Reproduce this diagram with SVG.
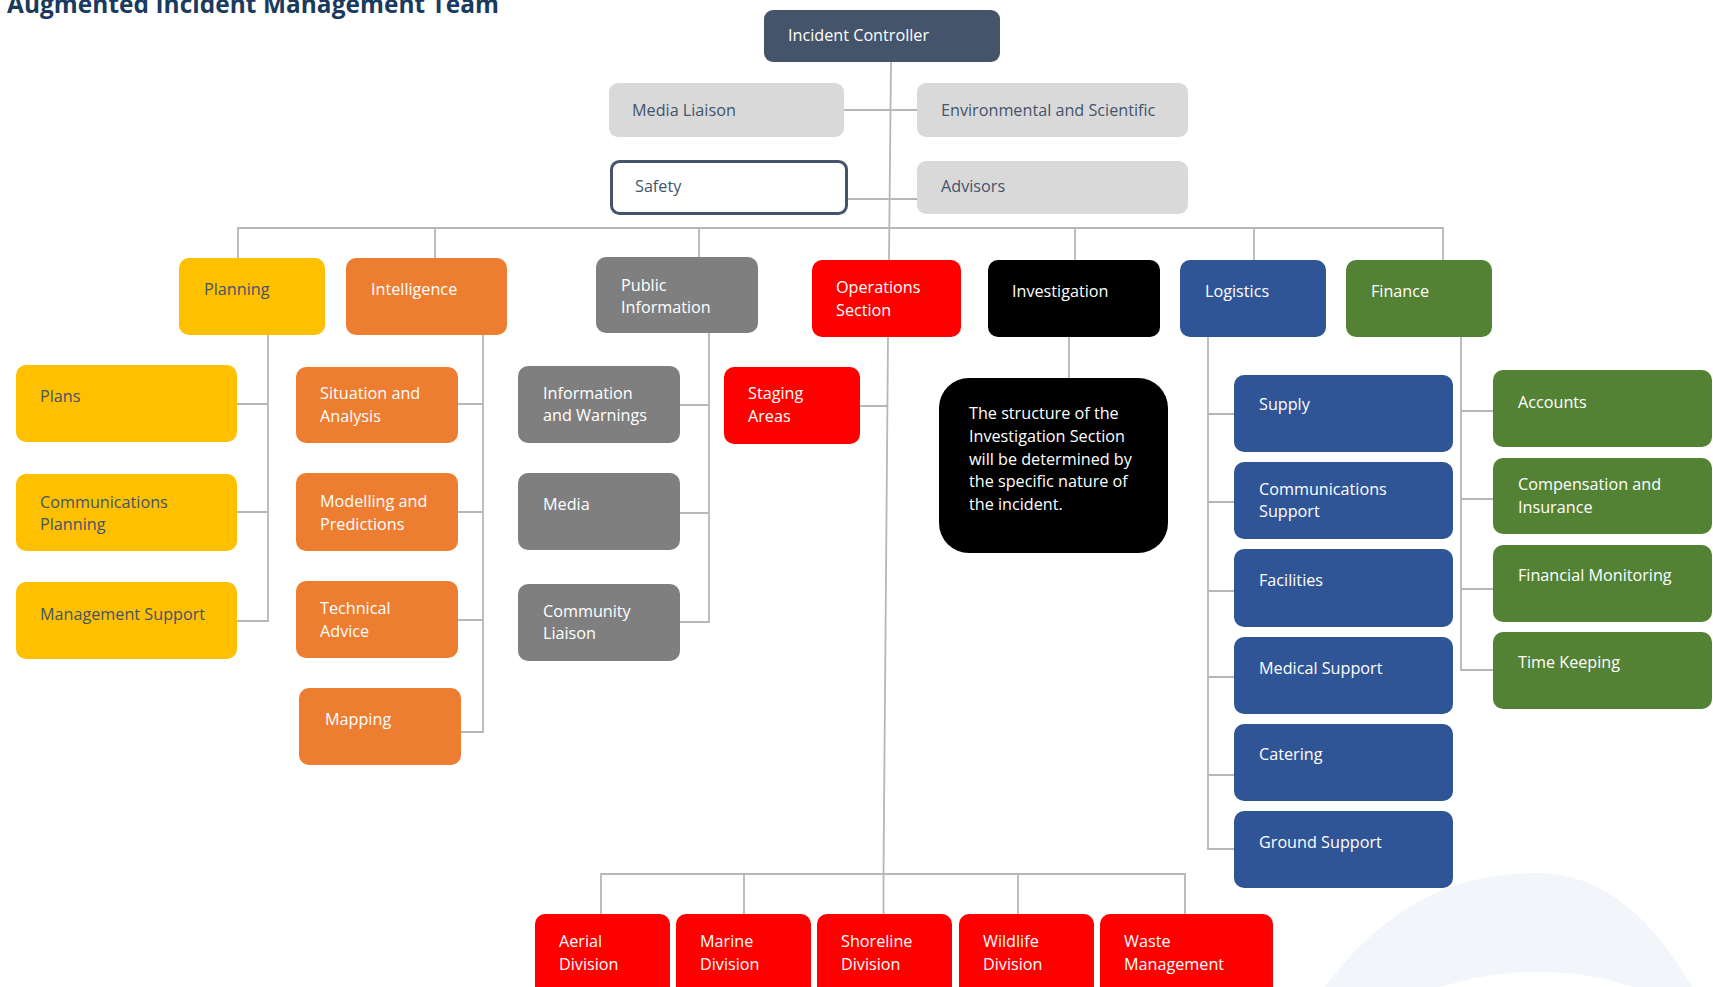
<svg xmlns="http://www.w3.org/2000/svg" width="1713" height="987" viewBox="0 0 1713 987">
<style>
text{font-family:"Open Sans","Noto Sans","Liberation Sans",sans-serif;font-size:16.2px;fill:#fff}
.dk{fill:#44546a}
.title{font-weight:700;font-size:24.4px;fill:#1a3a5e}
.c{stroke:#b7b7b7;stroke-width:1.8;fill:none}
.navy{fill:#44546a}
.lg{fill:#d9d9d9}
.yl{fill:#ffc000}
.or{fill:#ed7d31}
.gr{fill:#7f7f7f}
.rd{fill:#ff0000}
.bk{fill:#000}
.bl{fill:#2f5597}
.gn{fill:#548235}
</style>
<rect x="0" y="0" width="1713" height="987" fill="#fff"/>
<path d="M1325,987 C1390,900 1460,873 1537,873 C1610,873 1660,930 1692,987 L1633,987 C1600,976 1570,972 1537,972 C1500,972 1470,978 1440,987 Z" fill="#f2f6fa"/>
<text class="title" x="7" y="13" textLength="492">Augmented Incident Management Team</text>
<g id="connectors">
<path class="c" d="M891,62 L889,260"/>
<path class="c" d="M844,110 H917"/>
<path class="c" d="M847,199 H917"/>
<path class="c" d="M238,258 V228 H1443 V260"/>
<path class="c" d="M435,228 V258 M699,228 V257 M1075,228 V260 M1254,228 V260"/>
<path class="c" d="M268,335 V621 H237 M237,404 H268 M237,512 H268"/>
<path class="c" d="M483,335 V732 H461 M458,404 H483 M458,512 H483 M458,620 H483"/>
<path class="c" d="M709,333 V622 H680 M680,405 H709 M680,513 H709"/>
<path class="c" d="M888,337 L883.5,874 M860,406 H887"/>
<path class="c" d="M601,914 V874 H1185 V914 M744,874 V914 M883.5,874 V914 M1018,874 V914"/>
<path class="c" d="M1069,337 V378"/>
<path class="c" d="M1208,337 V849 H1234 M1208,414 H1234 M1208,502 H1234 M1208,591 H1234 M1208,677 H1234 M1208,775 H1234"/>
<path class="c" d="M1461,337 V670 H1493 M1461,411 H1493 M1461,499 H1493 M1461,589 H1493"/>
</g>
<g id="incident-controller"><rect class="navy" x="764" y="10" width="236" height="52" rx="9"/><text x="788" y="41">Incident Controller</text></g>
<g id="media-liaison"><rect class="lg" x="609" y="83" width="235" height="54" rx="9"/><text class="dk" x="632" y="116">Media Liaison</text></g>
<g id="environmental"><rect class="lg" x="917" y="83" width="271" height="54" rx="9"/><text class="dk" x="941" y="116">Environmental and Scientific</text></g>
<g id="safety"><rect x="611.5" y="161.5" width="235" height="52" rx="8" fill="#fff" stroke="#44546a" stroke-width="3"/><text class="dk" x="635" y="192">Safety</text></g>
<g id="advisors"><rect class="lg" x="917" y="161" width="271" height="53" rx="9"/><text class="dk" x="941" y="192">Advisors</text></g>

<g id="planning"><rect class="yl" x="179" y="258" width="146" height="77" rx="10"/><text class="dk" x="204" y="295">Planning</text></g>
<g id="intelligence"><rect class="or" x="346" y="258" width="161" height="77" rx="10"/><text x="371" y="295">Intelligence</text></g>
<g id="public-information"><rect class="gr" x="596" y="257" width="162" height="76" rx="10"/><text x="621" y="291">Public</text><text x="621" y="313">Information</text></g>
<g id="operations"><rect class="rd" x="812" y="260" width="149" height="77" rx="10"/><text x="836" y="293">Operations</text><text x="836" y="316">Section</text></g>
<g id="investigation"><rect class="bk" x="988" y="260" width="172" height="77" rx="10"/><text x="1012" y="297">Investigation</text></g>
<g id="logistics"><rect class="bl" x="1180" y="260" width="146" height="77" rx="10"/><text x="1205" y="297">Logistics</text></g>
<g id="finance"><rect class="gn" x="1346" y="260" width="146" height="77" rx="10"/><text x="1371" y="297">Finance</text></g>

<g id="plans"><rect class="yl" x="16" y="365" width="221" height="77" rx="10"/><text class="dk" x="40" y="402">Plans</text></g>
<g id="communications-planning"><rect class="yl" x="16" y="474" width="221" height="77" rx="10"/><text class="dk" x="40" y="507.5">Communications</text><text class="dk" x="40" y="530">Planning</text></g>
<g id="management-support"><rect class="yl" x="16" y="582" width="221" height="77" rx="10"/><text class="dk" x="40" y="619.5">Management Support</text></g>

<g id="situation"><rect class="or" x="296" y="367" width="162" height="76" rx="10"/><text x="320" y="398.5">Situation and</text><text x="320" y="422">Analysis</text></g>
<g id="modelling"><rect class="or" x="296" y="473" width="162" height="78" rx="10"/><text x="320" y="507">Modelling and</text><text x="320" y="529.5">Predictions</text></g>
<g id="technical"><rect class="or" x="296" y="581" width="162" height="77" rx="10"/><text x="320" y="613.5">Technical</text><text x="320" y="637">Advice</text></g>
<g id="mapping"><rect class="or" x="299" y="688" width="162" height="77" rx="10"/><text x="325" y="725">Mapping</text></g>

<g id="information-warnings"><rect class="gr" x="518" y="366" width="162" height="77" rx="10"/><text x="543" y="398.5">Information</text><text x="543" y="421">and Warnings</text></g>
<g id="media"><rect class="gr" x="518" y="473" width="162" height="77" rx="10"/><text x="543" y="509.5">Media</text></g>
<g id="community-liaison"><rect class="gr" x="518" y="584" width="162" height="77" rx="10"/><text x="543" y="617">Community</text><text x="543" y="639">Liaison</text></g>

<g id="staging-areas"><rect class="rd" x="724" y="367" width="136" height="77" rx="10"/><text x="748" y="398.5">Staging</text><text x="748" y="422">Areas</text></g>

<g id="investigation-note"><rect class="bk" x="939" y="378" width="229" height="175" rx="30"/><text x="969" y="419">The structure of the</text><text x="969" y="441.7">Investigation Section</text><text x="969" y="465">will be determined by</text><text x="969" y="487.3">the specific nature of</text><text x="969" y="510">the incident.</text></g>

<g id="supply"><rect class="bl" x="1234" y="375" width="219" height="77" rx="10"/><text x="1259" y="410">Supply</text></g>
<g id="communications-support"><rect class="bl" x="1234" y="462" width="219" height="77" rx="10"/><text x="1259" y="495">Communications</text><text x="1259" y="517">Support</text></g>
<g id="facilities"><rect class="bl" x="1234" y="549" width="219" height="78" rx="10"/><text x="1259" y="586">Facilities</text></g>
<g id="medical-support"><rect class="bl" x="1234" y="637" width="219" height="77" rx="10"/><text x="1259" y="673.5">Medical Support</text></g>
<g id="catering"><rect class="bl" x="1234" y="724" width="219" height="77" rx="10"/><text x="1259" y="760">Catering</text></g>
<g id="ground-support"><rect class="bl" x="1234" y="811" width="219" height="77" rx="10"/><text x="1259" y="848">Ground Support</text></g>

<g id="accounts"><rect class="gn" x="1493" y="370" width="219" height="77" rx="10"/><text x="1518" y="407.5">Accounts</text></g>
<g id="compensation"><rect class="gn" x="1493" y="458" width="219" height="76" rx="10"/><text x="1518" y="490">Compensation and</text><text x="1518" y="513">Insurance</text></g>
<g id="financial-monitoring"><rect class="gn" x="1493" y="545" width="219" height="77" rx="10"/><text x="1518" y="581">Financial Monitoring</text></g>
<g id="time-keeping"><rect class="gn" x="1493" y="632" width="219" height="77" rx="10"/><text x="1518" y="668">Time Keeping</text></g>

<g id="aerial"><rect class="rd" x="535" y="914" width="135" height="90" rx="10"/><text x="559" y="947">Aerial</text><text x="559" y="970">Division</text></g>
<g id="marine"><rect class="rd" x="676" y="914" width="135" height="90" rx="10"/><text x="700" y="947">Marine</text><text x="700" y="970">Division</text></g>
<g id="shoreline"><rect class="rd" x="817" y="914" width="135" height="90" rx="10"/><text x="841" y="947">Shoreline</text><text x="841" y="970">Division</text></g>
<g id="wildlife"><rect class="rd" x="959" y="914" width="135" height="90" rx="10"/><text x="983" y="947">Wildlife</text><text x="983" y="970">Division</text></g>
<g id="waste"><rect class="rd" x="1100" y="914" width="173" height="90" rx="10"/><text x="1124" y="947">Waste</text><text x="1124" y="970">Management</text></g>
</svg>
